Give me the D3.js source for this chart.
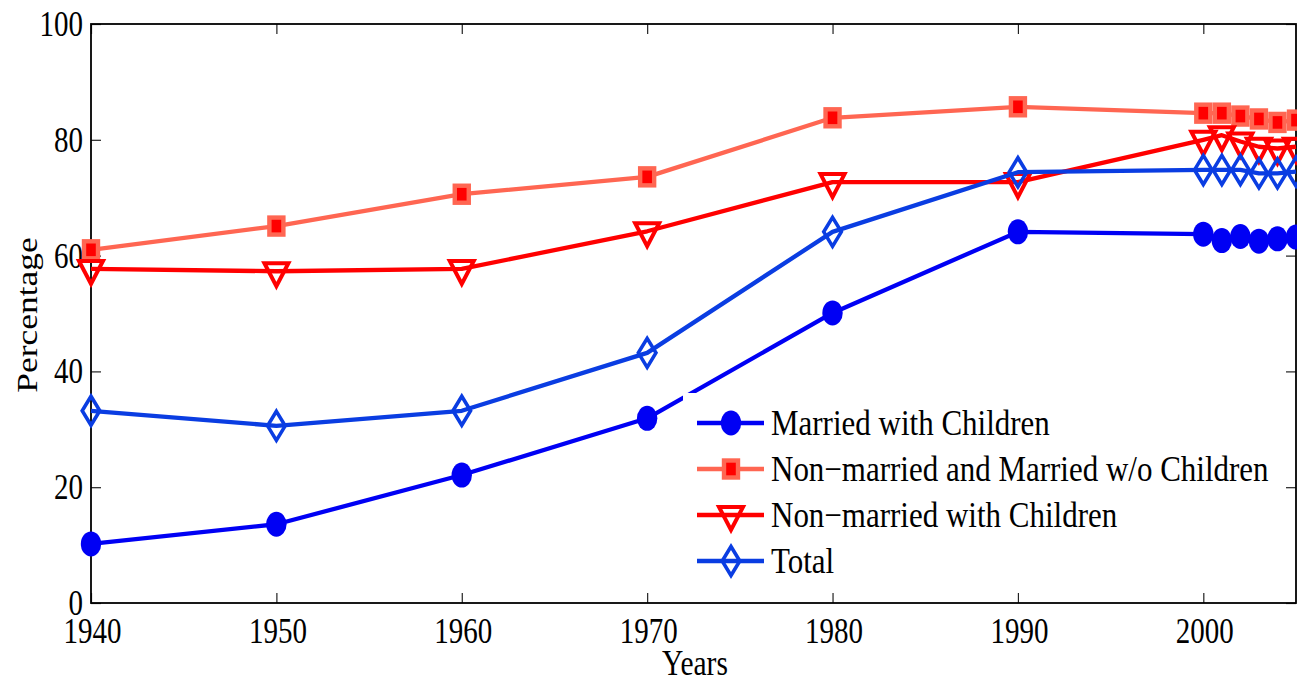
<!DOCTYPE html>
<html>
<head>
<meta charset="utf-8">
<script src="https://cdn.jsdelivr.net/npm/d3@7"></script>
<style>
  html, body { margin: 0; padding: 0; background: #fff; }
  svg { display: block; }
  text { font-family: "Liberation Serif", "Times New Roman", serif; fill: #000; }
</style>
</head>
<body>
<svg id="chart" width="1297" height="682"></svg>
<script>
// Share of households by type, 1940-2005 (percent)
const years = [1940, 1950, 1960, 1970, 1980, 1990, 2000, 2001, 2002, 2003, 2004, 2005];
const marriedWithChildren = [10.2, 13.6, 22.1, 31.9, 50.1, 64.1, 63.7, 62.6, 63.3, 62.5, 62.9, 63.2];
const nonMarriedAndMarriedNoChildren = [61.0, 65.1, 70.6, 73.6, 83.8, 85.7, 84.6, 84.6, 84.1, 83.6, 83.0, 83.4];
const nonMarriedWithChildren = [57.7, 57.3, 57.7, 64.2, 72.7, 72.7, 80.0, 80.8, 79.7, 78.8, 78.5, 78.8];
const total = [33.2, 30.6, 33.2, 43.2, 64.1, 74.4, 74.8, 74.8, 74.8, 74.2, 74.2, 74.5];

const seriesNames = [
  "Married with Children",
  "Non\u2212married and Married w/o Children",
  "Non\u2212married with Children",
  "Total"
];
const xTicks = [1940, 1950, 1960, 1970, 1980, 1990, 2000];
const yTicks = [0, 20, 40, 60, 80, 100];

const series = [
  { name: seriesNames[0], values: marriedWithChildren, color: "#0000f4", marker: "circle" },
  { name: seriesNames[1], values: nonMarriedAndMarriedNoChildren, color: "#ff6652", marker: "square" },
  { name: seriesNames[2], values: nonMarriedWithChildren, color: "#ff0000", marker: "triangle" },
  { name: seriesNames[3], values: total, color: "#0a3de2", marker: "diamond" }
];

const svg = d3.select("#chart");
const plotLeft = 91, plotRight = 1296, plotTop = 24, plotBottom = 603;
const SY = 1.2; // vertical stretch of the lettering

const x = d3.scaleLinear().domain([1940, 2005]).range([plotLeft, plotRight]);
const y = d3.scaleLinear().domain([0, 100]).range([plotBottom, plotTop]);

// Axes with inward ticks on all four sides
const axes = svg.append("g");
const gL = axes.append("g").attr("transform", `translate(${plotLeft},0)`)
  .call(d3.axisLeft(y).tickValues(yTicks).tickSizeInner(-10).tickSizeOuter(0).tickPadding(8));
const gR = axes.append("g").attr("transform", `translate(${plotRight},0)`)
  .call(d3.axisRight(y).tickValues(yTicks).tickSizeInner(-10).tickSizeOuter(0).tickFormat(""));
const gB = axes.append("g").attr("transform", `translate(0,${plotBottom})`)
  .call(d3.axisBottom(x).tickValues(xTicks).tickSizeInner(-10).tickSizeOuter(0).tickFormat(d3.format("d")));
const gT = axes.append("g").attr("transform", `translate(0,${plotTop})`)
  .call(d3.axisTop(x).tickValues(xTicks).tickSizeInner(-10).tickSizeOuter(0).tickFormat(""));

axes.selectAll(".domain").remove();
axes.selectAll(".tick line").attr("stroke", "#222").attr("stroke-width", 1.2);

gL.selectAll(".tick text")
  .attr("x", null).attr("dy", null)
  .attr("font-size", 29)
  .attr("text-anchor", "end")
  .attr("transform", `translate(-8,${0.33 * 29 * SY}) scale(1,${SY})`);

gB.selectAll(".tick text")
  .attr("y", null).attr("dy", null)
  .attr("font-size", 29)
  .attr("text-anchor", "middle")
  .attr("transform", `translate(1,40) scale(1,${SY})`);

// Plot frame
svg.append("rect")
  .attr("x", plotLeft).attr("y", plotTop)
  .attr("width", plotRight - plotLeft).attr("height", plotBottom - plotTop)
  .attr("fill", "none").attr("stroke", "#000").attr("stroke-width", 1.8);

// Axis titles
svg.append("text")
  .attr("font-size", 29.5)
  .attr("text-anchor", "middle")
  .attr("transform", `translate(695,675) scale(1,${SY})`)
  .text("Years");

svg.append("text")
  .attr("font-size", 29.5)
  .attr("text-anchor", "middle")
  .attr("transform", `translate(37,315) rotate(-90) scale(${SY},1)`)
  .text("Percentage");

// Marker drawing
function drawMarker(g, type, color) {
  if (type === "circle") {
    g.append("ellipse").attr("rx", 10.2).attr("ry", 12.5).attr("fill", color);
  } else if (type === "square") {
    g.append("rect").attr("x", -7).attr("y", -8.5).attr("width", 14).attr("height", 17)
      .attr("fill", "#ff0000").attr("stroke", color).attr("stroke-width", 4.4);
  } else if (type === "triangle") {
    g.append("path").attr("d", "M-12,-8 L12,-8 L0,15 Z")
      .attr("fill", "none").attr("stroke", color).attr("stroke-width", 4)
      .attr("stroke-linejoin", "miter");
  } else if (type === "diamond") {
    g.append("path").attr("d", "M0,-14.5 L8.8,0 L0,14.5 L-8.8,0 Z")
      .attr("fill", "none").attr("stroke", color).attr("stroke-width", 3.6)
      .attr("stroke-linejoin", "miter");
  }
}

const line = d3.line().x(d => x(d[0])).y(d => y(d[1]));

series.forEach(s => {
  const pts = years.map((yr, i) => [yr, s.values[i]]);
  const g = svg.append("g");
  g.append("path")
    .attr("d", line(pts))
    .attr("fill", "none")
    .attr("stroke", s.color)
    .attr("stroke-width", 4.3)
    .attr("stroke-linejoin", "round");
  pts.forEach(p => {
    const m = g.append("g").attr("transform", `translate(${x(p[0])},${y(p[1])})`);
    drawMarker(m, s.marker, s.color);
  });
});

// Legend
const legend = svg.append("g");
legend.append("rect")
  .attr("x", 683).attr("y", 393).attr("width", 600).attr("height", 192)
  .attr("fill", "#fff");

series.forEach((s, i) => {
  const cy = 423 + i * 46;
  const item = legend.append("g").attr("transform", `translate(0,${cy})`);
  item.append("line")
    .attr("x1", 697).attr("x2", 764).attr("y1", 0).attr("y2", 0)
    .attr("stroke", s.color).attr("stroke-width", 4.3);
  const m = item.append("g").attr("transform", "translate(731,0)");
  drawMarker(m, s.marker, s.color);
  item.append("text")
    .attr("font-size", 31)
    .attr("transform", `translate(771,${0.34 * 31 * 1.15}) scale(1,1.15)`)
    .text(s.name);
});
</script>
</body>
</html>
